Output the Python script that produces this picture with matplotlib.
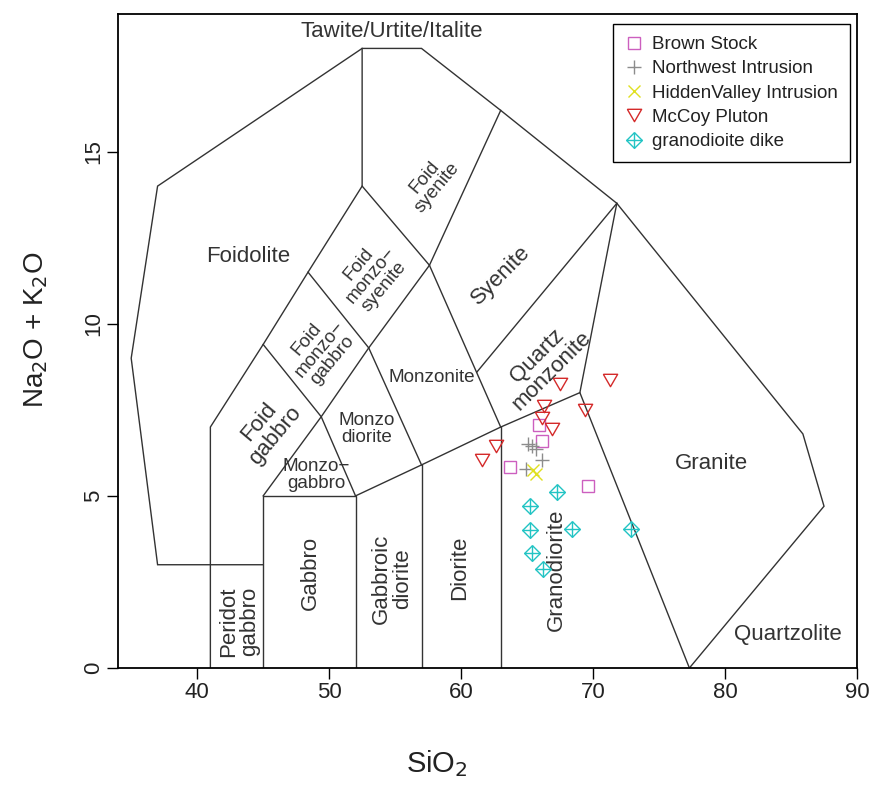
import matplotlib
matplotlib.use("Agg")
import matplotlib.pyplot as plt
from matplotlib.lines import Line2D

plt.rcParams['font.family'] = ['Liberation Sans', 'DejaVu Sans']

# ---- sample data (SiO2, Na2O+K2O) ----
brown_x = [65.9, 66.1, 63.7, 69.6]
brown_y = [7.05, 6.6, 5.85, 5.3]
nw_x = [65.1, 65.4, 65.7, 66.15, 64.95]
nw_y = [6.5, 6.45, 6.37, 6.03, 5.78]
hv_x = [65.45, 65.65]
hv_y = [5.74, 5.63]
mccoy_x = [67.5, 71.3, 66.3, 69.4, 66.1, 66.9, 62.65, 61.6]
mccoy_y = [8.26, 8.36, 7.61, 7.5, 7.26, 6.93, 6.46, 6.03]
dike_x = [67.3, 65.25, 65.2, 68.4, 72.85, 65.35, 66.2]
dike_y = [5.1, 4.71, 4.0, 4.03, 4.05, 3.35, 2.88]

series_names = ["Brown Stock", "Northwest Intrusion", "HiddenValley Intrusion",
                "McCoy Pluton", "granodioite dike"]

# ---- TAS (Middlemost plutonic) field boundaries ----
boundaries = [
    [(45, 3), (37, 3), (35, 9), (37, 14), (52.5, 18), (57, 18), (63, 16.2),
     (71.8, 13.5), (85.9, 6.8), (87.5, 4.7), (77.3, 0)],
    [(41, 0), (41, 7), (45, 9.4), (48.4, 11.5), (52.5, 14), (52.5, 18)],
    [(45, 0), (45, 5), (52, 5), (52, 0)],
    [(45, 5), (49.4, 7.3), (52, 5)],
    [(45, 9.4), (49.4, 7.3), (53, 9.3), (48.4, 11.5)],
    [(53, 9.3), (57, 5.9)],
    [(52, 5), (57, 5.9), (63, 7), (69, 8), (77.3, 0)],
    [(57, 0), (57, 5.9)],
    [(63, 0), (63, 7)],
    [(53, 9.3), (57.6, 11.7), (52.5, 14)],
    [(57.6, 11.7), (63, 16.2)],
    [(57.6, 11.7), (63, 7)],
    [(61.2, 8.6), (71.8, 13.5)],
    [(69, 8), (71.8, 13.5)],
]

# (text, x, y, rotation, size)
field_labels = [
    ("Tawite/Urtite/Italite", 54.75, 18.48, 0, 16),
    ("Foidolite", 43.9, 11.95, 0, 16),
    ("Foid\nsyenite", 57.7, 14.1, 50, 13.6),
    ("Foid\nmonzo\u2212\nsyenite", 53.2, 11.4, 50, 13.6),
    ("Syenite", 63.0, 11.4, 45, 16),
    ("Foid\nmonzo\u2212\ngabbro", 49.3, 9.25, 50, 13.6),
    ("Quartz\nmonzonite", 66.3, 8.85, 45, 16),
    ("Monzonite", 57.75, 8.45, 0, 13.6),
    ("Foid\ngabbro", 45.3, 6.95, 50, 16),
    ("Monzo\ndiorite", 52.83, 6.95, 0, 13.6),
    ("Monzo\u2212\ngabbro", 49.0, 5.6, 0, 13.6),
    ("Peridot\ngabbro", 43.2, 1.35, 90, 16),
    ("Gabbro", 48.54, 2.75, 90, 16),
    ("Gabbroic\ndiorite", 54.75, 2.6, 90, 16),
    ("Diorite", 59.9, 2.9, 90, 16),
    ("Granodiorite", 67.2, 2.85, 90, 16),
    ("Granite", 79.0, 5.95, 0, 16),
    ("Quartzolite", 84.75, 0.96, 0, 16),
]

x_ticks = [40, 50, 60, 70, 80, 90]
y_ticks = [0, 5, 10, 15]

c_brown = "#CC5FBF"
c_nw = "#8C8C8C"
c_hv = "#E0E020"
c_mccoy = "#D42A2A"
c_dike = "#22C4C4"

tri_down = [(-1, 0.866), (1, 0.866), (0, -0.866), (-1, 0.866)]
diamond = [(0, 1), (1, 0), (0, -1), (-1, 0), (0, 1)]

fig = plt.figure(figsize=(8.74, 7.85), dpi=100)
ax = fig.add_axes([118/874, 1-668/785, (857-118)/874, (668-14)/785])
ax.set_xlim(34.0, 90)
ax.set_ylim(0, 19)

for seg in boundaries:
    xs = [p[0] for p in seg]
    ys = [p[1] for p in seg]
    ax.plot(xs, ys, color="#333333", lw=1.0, zorder=2, solid_joinstyle="miter")

for txt, x, y, rot, sz in field_labels:
    ax.text(x, y, txt, rotation=rot, fontsize=sz, ha="center", va="center",
            color="#333333", linespacing=1.0, rotation_mode="anchor", zorder=3)

mk = dict(linestyle="none", zorder=5)
ax.plot(brown_x, brown_y, marker="s", ms=8.2, mfc="none", mec=c_brown, mew=1.0, **mk)
ax.plot(nw_x, nw_y, marker="+", ms=10.5, mec=c_nw, mew=1.0, **mk)
ax.plot(hv_x, hv_y, marker="x", ms=8.4, mec=c_hv, mew=1.0, **mk)
ax.plot(mccoy_x, mccoy_y, marker=tri_down, ms=10.3, mfc="none", mec=c_mccoy, mew=1.0, **mk)
ax.plot(dike_x, dike_y, marker=diamond, ms=11.3, mfc="none", mec=c_dike, mew=1.0, **mk)
ax.plot(dike_x, dike_y, marker="+", ms=11.3, mec=c_dike, mew=1.0, **mk)

h_brown = Line2D([], [], marker="s", ms=8.2, mfc="none", mec=c_brown, mew=1.0, ls="none")
h_nw = Line2D([], [], marker="+", ms=10.5, mec=c_nw, mew=1.0, ls="none")
h_hv = Line2D([], [], marker="x", ms=8.4, mec=c_hv, mew=1.0, ls="none")
h_mc = Line2D([], [], marker=tri_down, ms=10.3, mfc="none", mec=c_mccoy, mew=1.0, ls="none")
h_d1 = Line2D([], [], marker=diamond, ms=11.3, mfc="none", mec=c_dike, mew=1.0, ls="none")
h_d2 = Line2D([], [], marker="+", ms=11.3, mec=c_dike, mew=1.0, ls="none")
leg = ax.legend([h_brown, h_nw, h_hv, h_mc, (h_d1, h_d2)], series_names,
                loc="upper right", bbox_to_anchor=(0.9905, 0.985), borderaxespad=0,
                fontsize=13.5, frameon=True, fancybox=False, edgecolor="black",
                handlelength=1.0, handletextpad=0.45, labelspacing=0.38,
                borderpad=0.65, framealpha=1)
leg.get_frame().set_linewidth(1.0)
for t in leg.get_texts():
    t.set_color("#222222")

for s in ax.spines.values():
    s.set_linewidth(1.3)
    s.set_color("black")

ax.set_xticks(x_ticks)
ax.set_yticks(y_ticks)
ax.tick_params(direction="out", length=8, width=1.0, labelsize=16, colors="black")
ax.tick_params(axis="x", pad=2)
ax.tick_params(axis="y", pad=2)
for lab in ax.get_yticklabels():
    lab.set_rotation(90)
    lab.set_va("center")
    lab.set_color("#222222")
for lab in ax.get_xticklabels():
    lab.set_color("#222222")

ax.set_xlabel("SiO$_2$", fontsize=21, color="#222222")
ax.xaxis.set_label_coords(0.432, -0.123)
ax.set_ylabel("Na$_2$O + K$_2$O", fontsize=20, color="#222222")
ax.yaxis.set_label_coords(-0.092, 0.517)

fig.savefig("out.png", dpi=100)
